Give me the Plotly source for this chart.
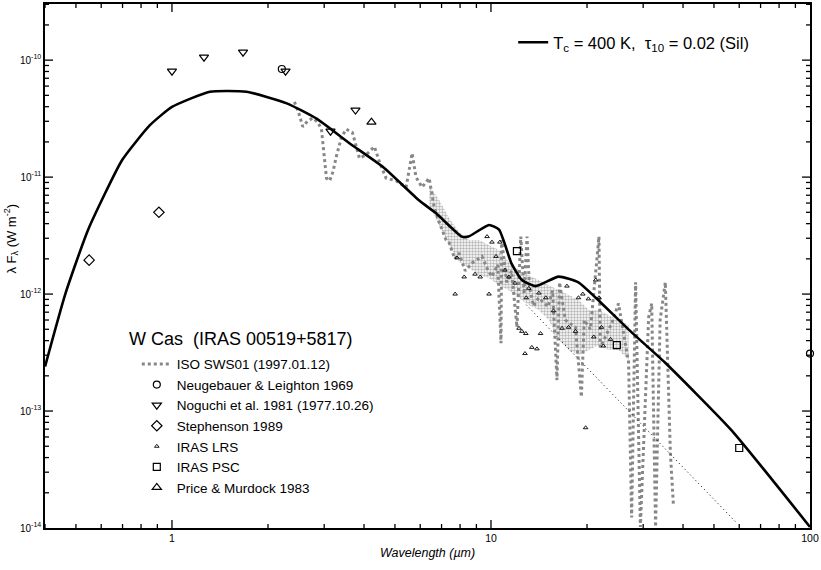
import plotly.graph_objects as go

# ---------------- data ----------------
iso_wave = [2.42, 2.50, 2.57, 2.66, 2.76, 2.86, 2.94, 3.05, 3.12, 3.20, 3.27, 3.40, 3.52, 3.68,
            3.87, 4.06, 4.31, 4.47, 4.69, 5.04, 5.42, 5.66, 5.82, 6.08, 6.40, 6.64, 6.88, 7.23,
            7.39, 7.70, 7.94, 8.30, 8.71, 9.37, 9.80, 10.07, 10.5, 10.75, 10.8, 11.2, 11.6, 12.06,
            12.4, 12.7, 12.97, 13.2, 13.6, 14.1, 15.1, 15.6, 16.1, 16.4, 17.1, 18.4, 19.2, 19.6,
            20.5, 21.8, 22.0, 23.9, 25.1, 26.3, 27.0, 27.6, 28.4, 29.4, 31.2, 31.9, 32.8, 33.9,
            35.2, 36.5, 37.3]
iso_flux = [4.4e-11, 3.5e-11, 2.7e-11, 3.0e-11, 3.2e-11, 2.95e-11, 2.6e-11, 9.8e-12, 9.3e-12,
            1.12e-11, 1.48e-11, 2.2e-11, 2.57e-11, 2.4e-11, 1.45e-11, 1.55e-11, 1.82e-11, 1.35e-11,
            9.8e-12, 9.3e-12, 8.2e-12, 1.6e-11, 1.0e-11, 8.2e-12, 9.8e-12, 5.5e-12, 4.1e-12, 2.9e-12,
            2.75e-12, 2.0e-12, 2.24e-12, 1.58e-12, 1.84e-12, 2.1e-12, 1.58e-12, 1.41e-12, 1.78e-12,
            3.8e-13, 2.9e-12, 1.26e-12, 1.58e-12, 5.2e-13, 3.1e-12, 1.0e-12, 3.1e-12, 1.15e-12,
            7.9e-13, 9.3e-13, 7.8e-13, 1.07e-12, 1.84e-13, 1.26e-12, 6.0e-13, 5.2e-13, 1.32e-13,
            6.0e-13, 5.0e-13, 3.1e-12, 3.5e-13, 5.6e-13, 8.3e-13, 3.8e-13, 2.6e-13, 1.23e-14,
            1.26e-12, 1.02e-14, 6.3e-13, 8.3e-13, 1.02e-14, 6.0e-13, 1.26e-12, 4.4e-14, 1.6e-14]

# envelope of the dense part of the ISO spectrum
band_wave = [6.40, 6.88, 7.39, 7.94, 8.53, 9.17, 9.86, 10.59, 11.38, 12.24, 13.14, 14.13, 15.18,
             16.31, 17.53, 18.84, 20.25, 21.76, 23.38, 25.12, 27.0]
band_hi = [8.55e-12, 6.36e-12, 4.46e-12, 3.39e-12, 2.9e-12, 2.9e-12, 2.62e-12, 2.38e-12, 1.88e-12,
           1.6e-12, 1.45e-12, 1.32e-12, 1.19e-12, 1.08e-12, 9.8e-13, 8.9e-13, 7.3e-13, 7.3e-13,
           6.6e-13, 6.0e-13, 5.43e-13]
band_lo = [5.77e-12, 3.89e-12, 2.62e-12, 1.88e-12, 1.67e-12, 1.45e-12, 1.37e-12, 1.19e-12, 1.08e-12,
           9.2e-13, 8.05e-13, 7.3e-13, 6.0e-13, 4.05e-13, 3.32e-13, 3.01e-13, 3.32e-13, 3.66e-13,
           3.32e-13, 3.32e-13, 2.73e-13]

model_wave = [0.40, 0.463, 0.546, 0.698, 0.853, 1.0, 1.315, 1.71, 2.29, 2.84, 3.6, 4.57, 5.96,
              6.73, 8.1, 8.5, 9.86, 10.6, 11.6, 12.5, 13.8, 16.3, 18.8, 21.3, 27.6, 35.1, 56.6, 100]
model_flux = [2.4e-13, 1.0e-12, 3.55e-12, 1.4e-11, 2.78e-11, 3.98e-11, 5.37e-11, 5.37e-11,
              4.27e-11, 3.16e-11, 1.95e-11, 1.23e-11, 6.3e-12, 4.9e-12, 3.1e-12, 3.1e-12, 3.9e-12,
              3.55e-12, 1.82e-12, 1.32e-12, 1.17e-12, 1.41e-12, 1.26e-12, 9.3e-13, 4.7e-13, 2.6e-13,
              6.9e-14, 1.02e-14]

photo_wave = [12.9, 59.0]
photo_flux = [8.1e-13, 1.1e-14]

neug_wave = [2.21, 100]
neug_flux = [8.4e-11, 3.1e-13]

nog_wave = [1.0, 1.26, 1.67, 2.27, 3.14, 3.76]
nog_flux = [8.05e-11, 1.06e-10, 1.17e-10, 8.05e-11, 2.47e-11, 3.74e-11]

steph_wave = [0.55, 0.91]
steph_flux = [1.95e-12, 5.0e-12]

lrs_wave = [7.72, 7.83, 8.24, 8.91, 9.25, 9.72, 9.86, 10.07, 10.37, 10.66, 11.06, 11.38, 11.89,
            12.24, 12.5, 12.78, 12.86, 12.9, 13.14, 13.43, 13.93, 14.13, 14.3, 14.85, 15.7, 16.7,
            17.3, 17.5, 18.4, 18.8, 19.4, 19.8, 20.2, 21.0, 21.3, 21.8, 22.2, 22.5, 23.7]
lrs_flux = [1.0e-12, 2.04e-12, 1.4e-12, 1.48e-12, 1.4e-12, 3.1e-12, 1.0e-12, 2.78e-12, 2.1e-12,
            2.78e-12, 1.6e-12, 1.4e-12, 1.24e-12, 5.1e-13, 4.8e-13, 3.1e-13, 4.6e-13, 9.3e-13,
            1.12e-12, 3.5e-13, 3.4e-13, 1.02e-12, 4.6e-13, 9.3e-13, 7.2e-13, 5.1e-13, 1.17e-12,
            5.2e-13, 4.8e-13, 9.3e-13, 1.0e-12, 7.2e-14, 9.1e-13, 4.3e-13, 1.32e-12, 9.3e-13,
            5.2e-13, 3.6e-13, 4.1e-13]

psc_wave = [12.06, 24.8, 60.0]
psc_flux = [2.33e-12, 3.66e-13, 4.83e-14]

pm_wave = [4.22]
pm_flux = [2.95e-11]

# axis ticks
x_major = [1, 10]
x_minor = [0.4, 0.5, 0.6, 0.7, 0.8, 0.9, 2, 3, 4, 5, 6, 7, 8, 9,
           20, 30, 40, 50, 60, 70, 80, 90]
x_label_vals = [1, 10, 100]
x_label_text = ["1", "10", "100"]
y_decades = [-14, -13, -12, -11, -10]
y_major = [10.0 ** e for e in y_decades[1:]]
y_minor = [m * 10.0 ** e for e in y_decades for m in range(2, 10)]
y_label_vals = [10.0 ** e for e in y_decades]
y_label_text = ["10<sup>%d</sup>" % e for e in y_decades]

X_RANGE = [-0.398, 2.0]
Y_RANGE = [-14, -9.52]
PLOT_W, PLOT_H = 765, 524          # plot area in pixels (821-45-11, 570-4-42)
MAJOR_LEN, MINOR_LEN = 8, 4        # tick lengths in pixels

FONT = "Liberation Sans, Arial, sans-serif"
GRAY = "rgb(135,135,135)"

fig = go.Figure()

# stippled band of the ISO spectrum
fig.add_trace(go.Scatter(x=band_wave + band_wave[::-1], y=band_hi + band_lo[::-1],
                         mode="lines", fill="toself", showlegend=False, hoverinfo="skip",
                         line=dict(width=0, color=GRAY), fillcolor="rgba(0,0,0,0)",
                         fillpattern=dict(shape=".", fgcolor="rgb(110,110,110)", bgcolor="white",
                                          size=3, solidity=0.5)))
fig.add_trace(go.Scatter(x=iso_wave, y=iso_flux, mode="lines", name="ISO SWS01 (1997.01.12)",
                         line=dict(color=GRAY, width=3, dash="dot")))
fig.add_trace(go.Scatter(x=photo_wave, y=photo_flux, mode="lines", showlegend=False,
                         line=dict(color="black", width=1, dash="1px,3px")))
fig.add_trace(go.Scatter(x=model_wave, y=model_flux, mode="lines",
                         name="T<sub>c</sub> = 400 K,\u00a0\u00a0τ<sub>10</sub> = 0.02 (Sil)",
                         line=dict(color="black", width=2.6, shape="spline", smoothing=0.5),
                         legend="legend2"))

mk_line = dict(color="black", width=1.2)
fig.add_trace(go.Scatter(x=neug_wave, y=neug_flux, mode="markers", name="Neugebauer & Leighton 1969",
                         marker=dict(symbol="circle-open", size=7, line=mk_line, color="black"),
                         cliponaxis=False))
fig.add_trace(go.Scatter(x=nog_wave, y=nog_flux, mode="markers", name="Noguchi et al. 1981 (1977.10.26)",
                         marker=dict(symbol="triangle-down-open", size=8, line=mk_line, color="black")))
fig.add_trace(go.Scatter(x=steph_wave, y=steph_flux, mode="markers", name="Stephenson 1989",
                         marker=dict(symbol="diamond-open", size=8, line=mk_line, color="black")))
fig.add_trace(go.Scatter(x=lrs_wave, y=lrs_flux, mode="markers", name="IRAS LRS",
                         marker=dict(symbol="triangle-up-open", size=4, line=dict(color="black", width=0.9),
                                     color="black")))
fig.add_trace(go.Scatter(x=psc_wave, y=psc_flux, mode="markers", name="IRAS PSC",
                         marker=dict(symbol="square-open", size=7, line=mk_line, color="black")))
fig.add_trace(go.Scatter(x=pm_wave, y=pm_flux, mode="markers", name="Price & Murdock 1983",
                         marker=dict(symbol="triangle-up-open", size=8, line=mk_line, color="black")))

# inward tick marks on all four sides, positioned by the axes' own scales
tick_shapes = []
tick_line = dict(color="black", width=1.3)
for vals, length in [(x_major, MAJOR_LEN), (x_minor, MINOR_LEN)]:
    f = length / PLOT_H
    for v in vals:
        tick_shapes.append(dict(type="line", xref="x", yref="paper", x0=v, x1=v, y0=0, y1=f,
                                line=tick_line, layer="above"))
        tick_shapes.append(dict(type="line", xref="x", yref="paper", x0=v, x1=v, y0=1, y1=1 - f,
                                line=tick_line, layer="above"))
for vals, length in [(y_major, MAJOR_LEN), (y_minor, MINOR_LEN)]:
    f = length / PLOT_W
    for v in vals:
        tick_shapes.append(dict(type="line", xref="paper", yref="y", x0=0, x1=f, y0=v, y1=v,
                                line=tick_line, layer="above"))
        tick_shapes.append(dict(type="line", xref="paper", yref="y", x0=1, x1=1 - f, y0=v, y1=v,
                                line=tick_line, layer="above"))

fig.update_layout(
    width=821, height=570,
    margin=dict(l=45, r=11, t=4, b=42),
    paper_bgcolor="white", plot_bgcolor="white",
    font=dict(family=FONT, color="black", size=12),
    showlegend=True,
    shapes=tick_shapes,
    legend=dict(x=0.12, y=0.342, xanchor="left", yanchor="top",
                font=dict(size=13.5, family=FONT), bgcolor="rgba(0,0,0,0)",
                tracegroupgap=0, itemsizing="trace"),
    legend2=dict(x=0.612, y=0.96, xanchor="left", yanchor="top",
                 font=dict(size=16.5, family=FONT, color="black"), bgcolor="rgba(0,0,0,0)"),
    annotations=[
        dict(text="W Cas  (IRAS 00519+5817)", x=0.107, y=0.36, xref="paper", yref="paper",
             xanchor="left", yanchor="middle", showarrow=False,
             font=dict(size=18, family=FONT)),
        dict(text="λ F<sub>λ</sub> (W m<sup>-2</sup>)", x=-0.044, y=0.553, xref="paper", yref="paper",
             xanchor="center", yanchor="middle", textangle=-90, showarrow=False,
             font=dict(size=13, family=FONT)),
        dict(text="<i>Wavelength (µm)</i>", x=0.5, y=-0.047, xref="paper", yref="paper",
             xanchor="center", yanchor="middle", showarrow=False,
             font=dict(size=12.5, family=FONT)),
    ],
)

fig.update_xaxes(
    type="log", range=X_RANGE, automargin=False,
    tickmode="array", tickvals=x_label_vals, ticktext=x_label_text, ticks="",
    showline=True, linecolor="black", linewidth=1.6, mirror=True,
    showgrid=False, zeroline=False,
    tickfont=dict(size=10.5, family=FONT),
)
fig.update_yaxes(
    type="log", range=Y_RANGE, automargin=False,
    tickmode="array", tickvals=y_label_vals, ticktext=y_label_text, ticks="",
    showline=True, linecolor="black", linewidth=1.6, mirror=True,
    showgrid=False, zeroline=False,
    tickfont=dict(size=10, family=FONT),
)

fig.write_html("out.html", config={"displayModeBar": False},
               post_script="document.body.style.margin='0';document.body.style.padding='0';")
